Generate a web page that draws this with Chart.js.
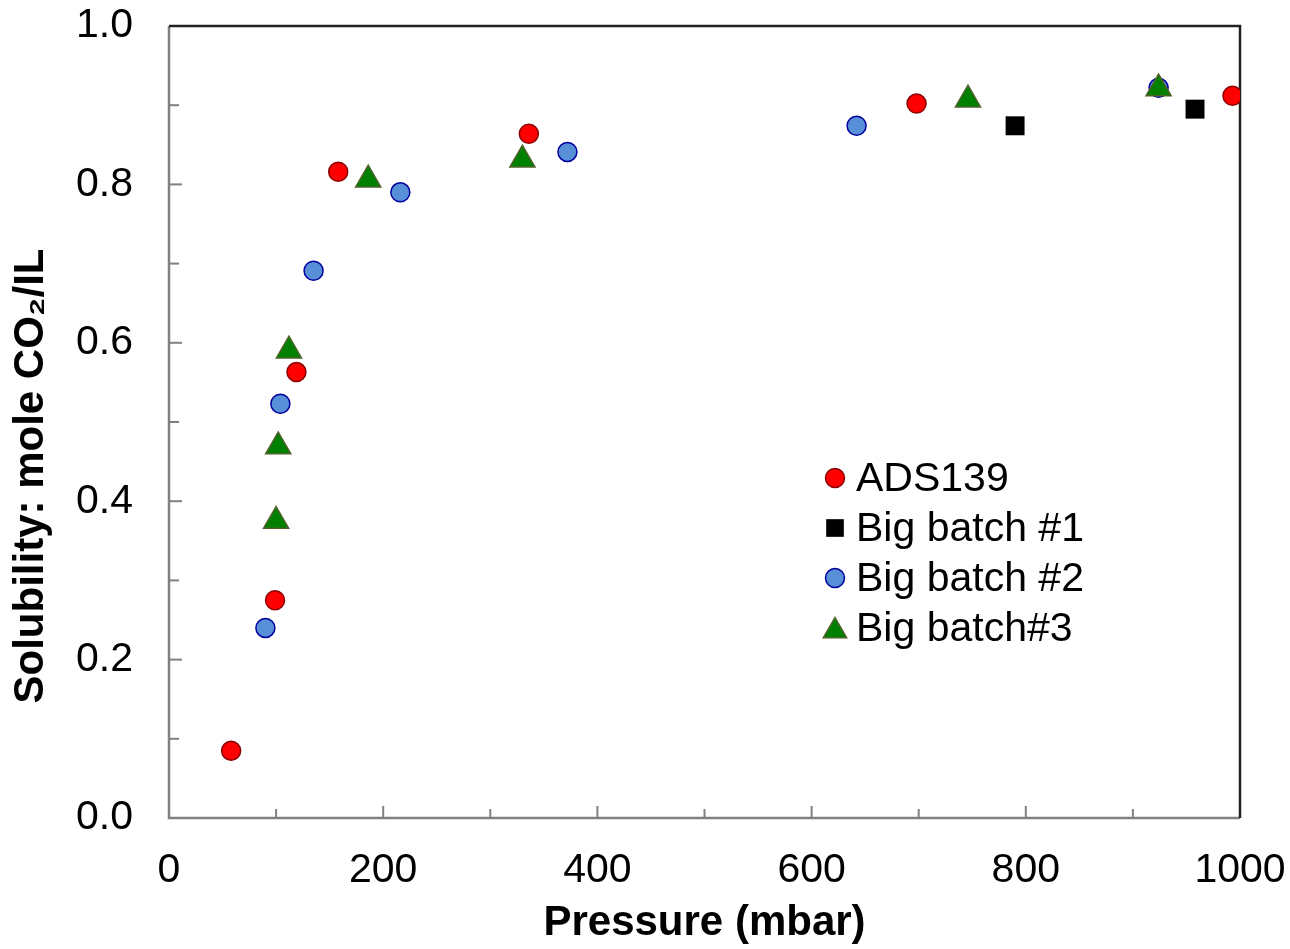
<!DOCTYPE html>
<html>
<head>
<meta charset="utf-8">
<script src="https://cdn.jsdelivr.net/npm/chart.js@4.4.1/dist/chart.umd.min.js"></script>
<style>
  html, body { margin: 0; padding: 0; background: #fff; }
  #wrap { width: 1290px; height: 949px; }
</style>
</head>
<body>
<div id="wrap"><canvas id="solubility"></canvas></div>
<script>
// pressure (mbar) / solubility (mole CO2 / IL)
const ads139_p = [58, 99, 119, 158, 336, 698, 993];
const ads139_s = [0.085, 0.275, 0.563, 0.816, 0.864, 0.902, 0.912];

const batch1_p = [790, 958];
const batch1_s = [0.874, 0.895];

const batch2_p = [90, 104, 135, 216, 372, 642, 924];
const batch2_s = [0.240, 0.523, 0.691, 0.790, 0.841, 0.874, 0.922];

const batch3_p = [100, 102, 112, 186, 330, 746, 924];
const batch3_s = [0.375, 0.469, 0.590, 0.806, 0.831, 0.907, 0.921];

const xTicks = [0, 200, 400, 600, 800, 1000];
const yTicks = [0.0, 0.2, 0.4, 0.6, 0.8, 1.0];

const toPoints = (xs, ys) => xs.map((x, i) => ({ x: x, y: ys[i] }));
const FONT = 'Arial, "Liberation Sans", sans-serif';
const Y_TITLE = 'Solubility: mole CO₂/IL';

// inward ticks + frame (major every 200 / 0.2, minor in between)
const frame = {
  id: 'frame',
  beforeDatasetsDraw(chart) {
    const { ctx, chartArea: a, scales: { x, y } } = chart;
    ctx.save();
    ctx.lineWidth = 2;
    ctx.strokeStyle = '#808080';
    for (let v = 0; v <= 1000; v += 100) {
      const px = x.getPixelForValue(v);
      const len = v % 200 === 0 ? 12 : 9;
      ctx.beginPath(); ctx.moveTo(px, a.bottom); ctx.lineTo(px, a.bottom - len); ctx.stroke();
    }
    for (let k = 0; k <= 10; k++) {
      const py = y.getPixelForValue(k / 10);
      const len = k % 2 === 0 ? 13 : 10;
      ctx.beginPath(); ctx.moveTo(a.left, py); ctx.lineTo(a.left + len, py); ctx.stroke();
    }
    ctx.lineWidth = 2.5;
    ctx.beginPath(); ctx.moveTo(a.left, a.top); ctx.lineTo(a.left, a.bottom); ctx.lineTo(a.right, a.bottom); ctx.stroke();
    ctx.strokeStyle = '#222';
    ctx.beginPath(); ctx.moveTo(a.left, a.top); ctx.lineTo(a.right, a.top); ctx.lineTo(a.right, a.bottom); ctx.stroke();

    // y title sits a bit below the middle of the axis in the original
    ctx.translate(31, 476);
    ctx.rotate(-Math.PI / 2);
    ctx.font = 'bold 42px ' + FONT;
    ctx.fillStyle = '#000';
    ctx.textAlign = 'center';
    ctx.textBaseline = 'middle';
    ctx.fillText(Y_TITLE, 0, 0);
    ctx.restore();
  }
};

// legend drawn inside the plot area
const insideLegend = {
  id: 'insideLegend',
  afterDatasetsDraw(chart) {
    const { ctx, chartArea: a } = chart;
    const x0 = a.left + 666, y0 = a.top + 452, gap = 50;
    ctx.save();
    ctx.font = '41px ' + FONT;
    ctx.textBaseline = 'middle';
    chart.data.datasets.forEach((ds, i) => {
      const cy = y0 + i * gap;
      ctx.fillStyle = ds.backgroundColor;
      ctx.strokeStyle = ds.borderColor;
      ctx.lineWidth = ds.borderWidth;
      Chart.helpers.drawPoint(ctx, {
        pointStyle: ds.pointStyle,
        radius: ds.legendRadius,
        borderWidth: ds.borderWidth
      }, x0, cy + (ds.pointStyle === 'triangle' ? 3 : 0));
      ctx.fillStyle = '#000';
      ctx.fillText(ds.label, x0 + 21, cy + 2);
    });
    ctx.restore();
  }
};

new Chart(document.getElementById('solubility').getContext('2d'), {
  type: 'scatter',
  plugins: [frame, insideLegend],
  data: {
    datasets: [{
      label: 'ADS139',
      data: toPoints(ads139_p, ads139_s),
      order: 0,
      pointStyle: 'circle',
      pointRadius: 9.5,
      legendRadius: 9.5,
      backgroundColor: '#FF0000',
      borderColor: '#8B0000',
      borderWidth: 1.5
    }, {
      label: 'Big batch #1',
      data: toPoints(batch1_p, batch1_s),
      order: 0,
      pointStyle: 'rect',
      pointRadius: 13.4,
      legendRadius: 12.5,
      backgroundColor: '#000000',
      borderColor: '#000000',
      borderWidth: 0
    }, {
      label: 'Big batch #2',
      data: toPoints(batch2_p, batch2_s),
      order: 2,
      pointStyle: 'circle',
      pointRadius: 9.5,
      legendRadius: 9.5,
      backgroundColor: '#5890D8',
      borderColor: '#0000A0',
      borderWidth: 1.5
    }, {
      label: 'Big batch#3',
      data: toPoints(batch3_p, batch3_s),
      order: 1,
      pointStyle: 'triangle',
      pointRadius: 14.5,
      legendRadius: 13.5,
      backgroundColor: '#008000',
      borderColor: '#4F6228',
      borderWidth: 1.5
    }]
  },
  options: {
    responsive: true,
    maintainAspectRatio: false,
    animation: false,
    layout: { padding: { top: 26, right: 50, bottom: 0, left: 0 } },
    plugins: {
      legend: { display: false },
      tooltip: { enabled: false }
    },
    scales: {
      x: {
        type: 'linear',
        min: 0,
        max: 1000,
        afterFit: (s) => { s.height = 131; s.paddingLeft = 0; s.paddingRight = 0; },
        afterBuildTicks: (s) => { s.ticks = xTicks.map(v => ({ value: v })); },
        grid: { display: false, drawTicks: false },
        border: { display: false },
        ticks: {
          padding: 28,
          color: '#000',
          font: { family: FONT, size: 41 },
          callback: (v) => String(v)
        },
        title: {
          display: true,
          text: 'Pressure (mbar)',
          color: '#000',
          padding: 0,
          font: { family: FONT, size: 42, weight: 'bold' }
        }
      },
      y: {
        type: 'linear',
        min: 0,
        max: 1,
        afterFit: (s) => { s.width = 169; s.paddingTop = 0; s.paddingBottom = 0; },
        afterBuildTicks: (s) => { s.ticks = yTicks.map(v => ({ value: v })); },
        grid: { display: false, drawTicks: false },
        border: { display: false },
        ticks: {
          padding: 36,
          color: '#000',
          font: { family: FONT, size: 41 },
          callback: (v) => Number(v).toFixed(1)
        },
        title: { display: false }
      }
    }
  }
});
</script>
</body>
</html>
